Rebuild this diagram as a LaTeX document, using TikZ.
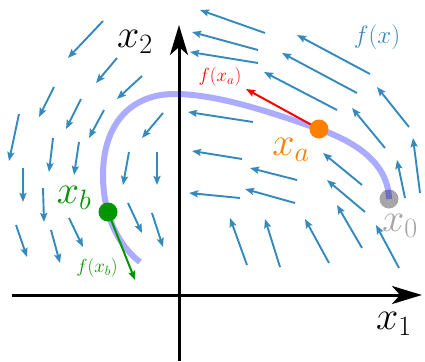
\RequirePackage{fix-cm}
\documentclass[tikz,border=0pt]{standalone}
\usetikzlibrary{arrows.meta}
\definecolor{fieldblue}{HTML}{348ABD}
\definecolor{dotorange}{RGB}{255,128,0}
\definecolor{dotgreen}{RGB}{0,150,0}
\tikzset{
  vec/.style={fieldblue, line width=1.9pt, -{Stealth[length=9pt,width=7pt,inset=1.5pt]}},
  axis/.style={black, line width=3pt, -{Stealth[length=30pt,width=18pt,inset=8pt]}},
  big/.style={font=\fontsize{40}{44}\selectfont, inner sep=0pt},
  mid/.style={font=\fontsize{25}{28}\selectfont, inner sep=0pt},
  small/.style={font=\fontsize{19}{22}\selectfont, inner sep=0pt},
  dot/.style={circle, inner sep=0pt, minimum size=19pt},
  traj/.style={blue, opacity=0.33, line width=6pt}
}
\begin{document}
\begin{tikzpicture}[x=1pt,y=-1pt]
\useasboundingbox[fill=white] (0,0) rectangle (425,361);
% vector field
\foreach \a/\b/\c/\d in {
 103/21/68/58, 117/58/96/83, 142/76/117/99, 54/87/39/117, 81/99/66/129,
 104/110/89/138, 19/114/9/161, 53/138/49/172, 79/142/74/175, 163/113/142/138,
 129/152/123/185, 157/152/157/185, 23/168/23/202, 43/188/44/222, 16/225/27/257,
 51/230/60/263, 69/218/83/247, 128/203/142/233, 152/213/163/247,
 265/33/200/10, 258/50/192/32, 258/63/190/52, 253/122/188/112, 337/110/264/72,
 370/74/297/35, 357/93/282/53, 409/127/377/87, 385/148/352/108, 362/185/323/153,
 365/212/327/180, 405/198/397/160, 420/193/413/138, 329/263/305/219, 362/248/337/205,
 399/268/376/225, 242/159/192/151, 297/180/250/168, 295/203/245/189, 240/198/189/193,
 247/265/230/218, 280/267/265/219}
 \draw[vec] (\a,\b) -- (\c,\d);
% axes
\coordinate (xs) at (12,295);
\coordinate (xe) at (422,295);
\coordinate (ys) at (179,361);
\coordinate (ye) at (179,25);
\draw[axis] (xs) -- (xe);
\draw[axis] (ys) -- (ye);
\node[big] (lx1) at (394,324) {$x_1$};
\node[big] (lx2) at (135,42) {$x_2$};
\node[mid, text=fieldblue] (lfx) at (377,37) {$f(x)$};
% start point
\node[dot, fill=black, opacity=0.35] (x0) at (389,199) {};
\node[big, text=black, opacity=0.35] (lx0) at (400,226) {$x_0$};
% trajectory
\draw[traj] (389,199) .. controls (388,160) and (350,140) .. (319,129)
  .. controls (270,112) and (220,95) .. (177,94)
  .. controls (130,93) and (103,125) .. (103,175)
  .. controls (103,215) and (118,245) .. (140,262);
% f(x_a)
\coordinate (fa) at (246,89);
\node[dot] (xa) at (319,129) {};
\draw[red, line width=2pt, -{Stealth[length=9pt,width=7pt,inset=1.5pt]}] (xa.center) -- (fa);
\node[dot, fill=dotorange] at (xa) {};
\node[big, text=dotorange] (lxa) at (291,150) {$x_a$};
\node[small, text=red] (lfa) at (220,77) {$f(x_a)$};
% f(x_b)
\coordinate (fb) at (135,280);
\node[dot] (xb) at (108,212) {};
\draw[dotgreen, line width=2pt, -{Stealth[length=9pt,width=7pt,inset=1.5pt]}] (xb.center) -- (fb);
\node[dot, fill=dotgreen] at (xb) {};
\node[big, text=dotgreen] (lxb) at (74,198) {$x_b$};
\node[small, text=dotgreen] (lfb) at (97,268) {$f(x_b)$};
\end{tikzpicture}
\end{document}
